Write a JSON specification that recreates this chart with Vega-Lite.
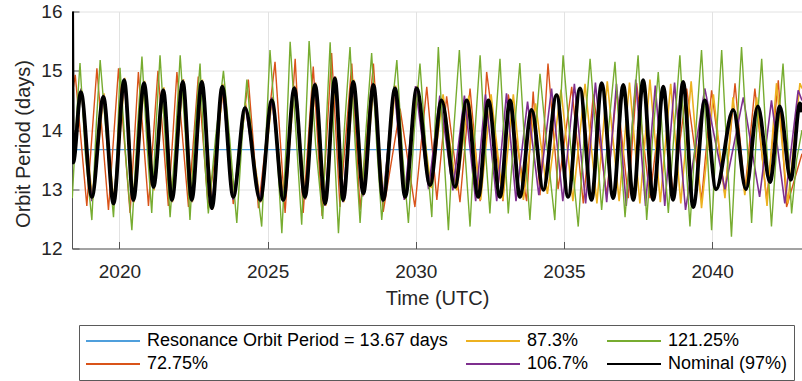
{
  "$schema": "https://vega.github.io/schema/vega-lite/v6.json",
  "width": 730,
  "height": 237,
  "autosize": {"type": "none"},
  "padding": {"left": 72, "top": 11.5, "right": 0, "bottom": 132.5},
  "background": "white",
  "config": {
    "view": {"stroke": null},
    "font": "Liberation Sans",
    "axis": {
      "labelFont": "Liberation Sans",
      "titleFont": "Liberation Sans",
      "labelFontSize": 19,
      "titleFontSize": 20,
      "labelColor": "#262626",
      "titleColor": "#262626",
      "titleFontWeight": "normal",
      "domainColor": "#555555",
      "tickColor": "#555555",
      "gridColor": "#e2e2e2",
      "gridWidth": 1,
      "tickSize": -7
    }
  },
  "data": {
    "values": [
      {"s":"R","t":2018.4,"v":13.67},{"s":"R","t":2043.03,"v":13.67},
      {"s":"O","t":2018.41,"v":14.6},{"s":"O","t":2018.51,"v":14.93},{"s":"O","t":2018.9,"v":12.72},{"s":"O","t":2019.24,"v":15.04},{"s":"O","t":2019.63,"v":12.65},{"s":"O","t":2019.97,"v":15.04},{"s":"O","t":2020.36,"v":12.6},{"s":"O","t":2020.64,"v":14.98},{"s":"O","t":2020.98,"v":12.72},{"s":"O","t":2021.3,"v":15.0},{"s":"O","t":2021.65,"v":12.72},{"s":"O","t":2021.94,"v":14.98},{"s":"O","t":2022.33,"v":12.7},{"s":"O","t":2022.66,"v":14.9},{"s":"O","t":2023.0,"v":12.67},{"s":"O","t":2023.51,"v":14.7},{"s":"O","t":2023.84,"v":12.75},{"s":"O","t":2024.35,"v":14.85},{"s":"O","t":2024.69,"v":12.68},{"s":"O","t":2025.25,"v":15.15},{"s":"O","t":2025.59,"v":12.6},{"s":"O","t":2025.93,"v":15.2},{"s":"O","t":2026.2,"v":12.6},{"s":"O","t":2026.54,"v":15.07},{"s":"O","t":2026.84,"v":12.55},{"s":"O","t":2027.16,"v":15.3},{"s":"O","t":2027.44,"v":12.7},{"s":"O","t":2027.84,"v":15.12},{"s":"O","t":2028.12,"v":12.65},{"s":"O","t":2028.57,"v":15.12},{"s":"O","t":2028.9,"v":12.62},{"s":"O","t":2029.47,"v":14.36},{"s":"O","t":2029.97,"v":12.7},{"s":"O","t":2030.37,"v":14.73},{"s":"O","t":2030.71,"v":12.82},{"s":"O","t":2031.04,"v":14.57},{"s":"O","t":2031.49,"v":12.78},{"s":"O","t":2031.83,"v":14.7},{"s":"O","t":2032.17,"v":12.8},{"s":"O","t":2032.39,"v":14.98},{"s":"O","t":2032.94,"v":12.8},{"s":"O","t":2033.12,"v":14.6},{"s":"O","t":2033.74,"v":12.8},{"s":"O","t":2033.96,"v":14.65},{"s":"O","t":2034.19,"v":12.9},{"s":"O","t":2034.46,"v":15.12},{"s":"O","t":2034.8,"v":13.0},{"s":"O","t":2035.26,"v":14.73},{"s":"O","t":2035.65,"v":12.76},{"s":"O","t":2035.99,"v":14.6},{"s":"O","t":2036.44,"v":12.9},{"s":"O","t":2036.78,"v":14.67},{"s":"O","t":2037.17,"v":12.85},{"s":"O","t":2037.45,"v":14.79},{"s":"O","t":2037.9,"v":12.85},{"s":"O","t":2038.35,"v":14.76},{"s":"O","t":2038.68,"v":12.9},{"s":"O","t":2039.14,"v":14.7},{"s":"O","t":2039.64,"v":12.82},{"s":"O","t":2039.98,"v":14.67},{"s":"O","t":2040.43,"v":12.9},{"s":"O","t":2040.77,"v":14.79},{"s":"O","t":2041.1,"v":12.95},{"s":"O","t":2041.44,"v":14.7},{"s":"O","t":2041.84,"v":12.82},{"s":"O","t":2042.23,"v":14.84},{"s":"O","t":2042.51,"v":12.7},{"s":"O","t":2043.03,"v":13.6},
      {"s":"Y","t":2018.41,"v":13.6},{"s":"Y","t":2018.72,"v":14.68},{"s":"Y","t":2019.09,"v":12.82},{"s":"Y","t":2019.48,"v":14.62},{"s":"Y","t":2019.82,"v":12.72},{"s":"Y","t":2020.18,"v":14.88},{"s":"Y","t":2020.49,"v":12.78},{"s":"Y","t":2020.85,"v":14.83},{"s":"Y","t":2021.17,"v":12.98},{"s":"Y","t":2021.5,"v":14.72},{"s":"Y","t":2021.79,"v":12.78},{"s":"Y","t":2022.16,"v":14.86},{"s":"Y","t":2022.46,"v":12.78},{"s":"Y","t":2022.8,"v":14.85},{"s":"Y","t":2023.14,"v":12.66},{"s":"Y","t":2023.49,"v":14.78},{"s":"Y","t":2023.86,"v":12.83},{"s":"Y","t":2024.26,"v":14.45},{"s":"Y","t":2024.77,"v":12.78},{"s":"Y","t":2025.16,"v":14.56},{"s":"Y","t":2025.55,"v":12.78},{"s":"Y","t":2025.92,"v":14.75},{"s":"Y","t":2026.28,"v":12.83},{"s":"Y","t":2026.62,"v":14.8},{"s":"Y","t":2026.96,"v":12.72},{"s":"Y","t":2027.29,"v":14.9},{"s":"Y","t":2027.57,"v":12.78},{"s":"Y","t":2027.91,"v":14.85},{"s":"Y","t":2028.25,"v":12.9},{"s":"Y","t":2028.59,"v":14.8},{"s":"Y","t":2028.92,"v":12.78},{"s":"Y","t":2029.32,"v":14.75},{"s":"Y","t":2029.66,"v":12.83},{"s":"Y","t":2030.06,"v":14.75},{"s":"Y","t":2030.52,"v":13.02},{"s":"Y","t":2030.92,"v":14.6},{"s":"Y","t":2031.38,"v":12.98},{"s":"Y","t":2031.79,"v":14.58},{"s":"Y","t":2032.19,"v":12.82},{"s":"Y","t":2032.54,"v":14.6},{"s":"Y","t":2032.94,"v":12.82},{"s":"Y","t":2033.29,"v":14.6},{"s":"Y","t":2033.63,"v":12.82},{"s":"Y","t":2034.04,"v":14.45},{"s":"Y","t":2034.44,"v":12.92},{"s":"Y","t":2034.9,"v":14.68},{"s":"Y","t":2035.3,"v":12.8},{"s":"Y","t":2035.71,"v":14.78},{"s":"Y","t":2036.11,"v":12.76},{"s":"Y","t":2036.46,"v":14.82},{"s":"Y","t":2036.86,"v":12.8},{"s":"Y","t":2037.21,"v":14.8},{"s":"Y","t":2037.56,"v":12.76},{"s":"Y","t":2037.9,"v":14.85},{"s":"Y","t":2038.25,"v":12.78},{"s":"Y","t":2038.6,"v":14.78},{"s":"Y","t":2038.94,"v":12.76},{"s":"Y","t":2039.29,"v":14.82},{"s":"Y","t":2039.64,"v":12.68},{"s":"Y","t":2040.04,"v":14.6},{"s":"Y","t":2040.43,"v":12.85},{"s":"Y","t":2040.7,"v":14.55},{"s":"Y","t":2041.1,"v":12.9},{"s":"Y","t":2041.5,"v":14.55},{"s":"Y","t":2041.85,"v":12.72},{"s":"Y","t":2042.17,"v":14.79},{"s":"Y","t":2042.55,"v":12.76},{"s":"Y","t":2042.96,"v":14.79},{"s":"Y","t":2043.03,"v":14.7},
      {"s":"P","t":2018.41,"v":13.5},{"s":"P","t":2018.7,"v":14.7},{"s":"P","t":2019.07,"v":12.8},{"s":"P","t":2019.46,"v":14.6},{"s":"P","t":2019.8,"v":12.72},{"s":"P","t":2020.16,"v":14.87},{"s":"P","t":2020.47,"v":12.78},{"s":"P","t":2020.83,"v":14.82},{"s":"P","t":2021.15,"v":13.0},{"s":"P","t":2021.48,"v":14.7},{"s":"P","t":2021.77,"v":12.78},{"s":"P","t":2022.14,"v":14.85},{"s":"P","t":2022.44,"v":12.78},{"s":"P","t":2022.78,"v":14.84},{"s":"P","t":2023.12,"v":12.65},{"s":"P","t":2023.47,"v":14.76},{"s":"P","t":2023.84,"v":12.82},{"s":"P","t":2024.24,"v":14.42},{"s":"P","t":2024.75,"v":12.78},{"s":"P","t":2025.14,"v":14.55},{"s":"P","t":2025.53,"v":12.78},{"s":"P","t":2025.9,"v":14.74},{"s":"P","t":2026.26,"v":12.83},{"s":"P","t":2026.59,"v":14.8},{"s":"P","t":2026.93,"v":12.72},{"s":"P","t":2027.26,"v":14.9},{"s":"P","t":2027.54,"v":12.78},{"s":"P","t":2027.87,"v":14.84},{"s":"P","t":2028.21,"v":12.88},{"s":"P","t":2028.55,"v":14.8},{"s":"P","t":2028.88,"v":12.78},{"s":"P","t":2029.27,"v":14.74},{"s":"P","t":2029.61,"v":12.82},{"s":"P","t":2029.99,"v":14.74},{"s":"P","t":2030.43,"v":13.0},{"s":"P","t":2030.81,"v":14.58},{"s":"P","t":2031.25,"v":12.98},{"s":"P","t":2031.64,"v":14.58},{"s":"P","t":2032.02,"v":12.8},{"s":"P","t":2032.35,"v":14.6},{"s":"P","t":2032.73,"v":12.8},{"s":"P","t":2033.06,"v":14.62},{"s":"P","t":2033.38,"v":12.8},{"s":"P","t":2033.77,"v":14.48},{"s":"P","t":2034.15,"v":12.9},{"s":"P","t":2034.58,"v":14.7},{"s":"P","t":2034.96,"v":12.8},{"s":"P","t":2035.35,"v":14.78},{"s":"P","t":2035.73,"v":12.76},{"s":"P","t":2036.06,"v":14.8},{"s":"P","t":2036.44,"v":12.78},{"s":"P","t":2036.77,"v":14.78},{"s":"P","t":2037.1,"v":12.72},{"s":"P","t":2037.42,"v":14.85},{"s":"P","t":2037.75,"v":12.72},{"s":"P","t":2038.08,"v":14.75},{"s":"P","t":2038.4,"v":12.72},{"s":"P","t":2038.73,"v":14.8},{"s":"P","t":2039.1,"v":12.65},{"s":"P","t":2039.75,"v":14.7},{"s":"P","t":2040.43,"v":13.0},{"s":"P","t":2041.05,"v":14.55},{"s":"P","t":2041.6,"v":12.87},{"s":"P","t":2042.0,"v":14.5},{"s":"P","t":2042.45,"v":12.76},{"s":"P","t":2042.9,"v":14.67},{"s":"P","t":2043.03,"v":14.5},
      {"s":"G","t":2018.41,"v":12.85},{"s":"G","t":2018.55,"v":14.2},{"s":"G","t":2018.67,"v":15.13},{"s":"G","t":2018.85,"v":13.6},{"s":"G","t":2019.07,"v":12.48},{"s":"G","t":2019.22,"v":14.1},{"s":"G","t":2019.35,"v":15.18},{"s":"G","t":2019.55,"v":13.95},{"s":"G","t":2019.8,"v":12.53},{"s":"G","t":2019.92,"v":13.6},{"s":"G","t":2020.02,"v":15.05},{"s":"G","t":2020.22,"v":13.5},{"s":"G","t":2020.42,"v":12.31},{"s":"G","t":2020.6,"v":13.95},{"s":"G","t":2020.76,"v":15.24},{"s":"G","t":2020.93,"v":13.75},{"s":"G","t":2021.09,"v":12.6},{"s":"G","t":2021.24,"v":14.1},{"s":"G","t":2021.37,"v":15.26},{"s":"G","t":2021.55,"v":13.8},{"s":"G","t":2021.71,"v":12.53},{"s":"G","t":2021.88,"v":13.75},{"s":"G","t":2022.05,"v":15.26},{"s":"G","t":2022.22,"v":13.95},{"s":"G","t":2022.38,"v":12.48},{"s":"G","t":2022.55,"v":14.0},{"s":"G","t":2022.72,"v":15.12},{"s":"G","t":2022.85,"v":13.7},{"s":"G","t":2023.0,"v":12.59},{"s":"G","t":2023.25,"v":13.9},{"s":"G","t":2023.51,"v":15.0},{"s":"G","t":2023.72,"v":13.85},{"s":"G","t":2023.96,"v":12.43},{"s":"G","t":2024.13,"v":13.8},{"s":"G","t":2024.3,"v":14.85},{"s":"G","t":2024.55,"v":13.4},{"s":"G","t":2024.8,"v":12.37},{"s":"G","t":2024.95,"v":13.95},{"s":"G","t":2025.08,"v":15.35},{"s":"G","t":2025.28,"v":13.95},{"s":"G","t":2025.48,"v":12.26},{"s":"G","t":2025.62,"v":13.7},{"s":"G","t":2025.76,"v":15.49},{"s":"G","t":2025.95,"v":14.0},{"s":"G","t":2026.15,"v":12.4},{"s":"G","t":2026.28,"v":14.05},{"s":"G","t":2026.4,"v":15.5},{"s":"G","t":2026.62,"v":13.75},{"s":"G","t":2026.86,"v":12.5},{"s":"G","t":2026.98,"v":14.1},{"s":"G","t":2027.11,"v":15.48},{"s":"G","t":2027.25,"v":13.7},{"s":"G","t":2027.39,"v":12.26},{"s":"G","t":2027.58,"v":13.95},{"s":"G","t":2027.78,"v":15.4},{"s":"G","t":2027.95,"v":13.8},{"s":"G","t":2028.12,"v":12.43},{"s":"G","t":2028.32,"v":14.0},{"s":"G","t":2028.51,"v":15.3},{"s":"G","t":2028.68,"v":13.75},{"s":"G","t":2028.85,"v":12.48},{"s":"G","t":2029.1,"v":13.9},{"s":"G","t":2029.36,"v":15.18},{"s":"G","t":2029.55,"v":13.6},{"s":"G","t":2029.75,"v":12.43},{"s":"G","t":2029.95,"v":14.0},{"s":"G","t":2030.14,"v":15.12},{"s":"G","t":2030.34,"v":13.7},{"s":"G","t":2030.54,"v":12.53},{"s":"G","t":2030.65,"v":14.1},{"s":"G","t":2030.76,"v":15.4},{"s":"G","t":2030.93,"v":13.75},{"s":"G","t":2031.1,"v":12.31},{"s":"G","t":2031.28,"v":14.0},{"s":"G","t":2031.47,"v":15.35},{"s":"G","t":2031.65,"v":13.7},{"s":"G","t":2031.83,"v":12.37},{"s":"G","t":2032.0,"v":14.0},{"s":"G","t":2032.17,"v":15.26},{"s":"G","t":2032.33,"v":13.8},{"s":"G","t":2032.5,"v":12.59},{"s":"G","t":2032.67,"v":14.0},{"s":"G","t":2032.84,"v":15.2},{"s":"G","t":2032.98,"v":13.85},{"s":"G","t":2033.12,"v":12.59},{"s":"G","t":2033.32,"v":13.95},{"s":"G","t":2033.51,"v":15.13},{"s":"G","t":2033.68,"v":13.7},{"s":"G","t":2033.85,"v":12.48},{"s":"G","t":2034.02,"v":13.85},{"s":"G","t":2034.19,"v":14.95},{"s":"G","t":2034.44,"v":13.65},{"s":"G","t":2034.69,"v":12.48},{"s":"G","t":2034.83,"v":13.9},{"s":"G","t":2034.97,"v":15.26},{"s":"G","t":2035.22,"v":13.75},{"s":"G","t":2035.48,"v":12.37},{"s":"G","t":2035.68,"v":13.9},{"s":"G","t":2035.88,"v":15.2},{"s":"G","t":2036.08,"v":13.9},{"s":"G","t":2036.27,"v":12.65},{"s":"G","t":2036.5,"v":14.0},{"s":"G","t":2036.72,"v":15.15},{"s":"G","t":2036.89,"v":13.75},{"s":"G","t":2037.06,"v":12.53},{"s":"G","t":2037.28,"v":13.95},{"s":"G","t":2037.5,"v":15.26},{"s":"G","t":2037.65,"v":13.85},{"s":"G","t":2037.79,"v":12.48},{"s":"G","t":2037.98,"v":13.8},{"s":"G","t":2038.18,"v":14.98},{"s":"G","t":2038.35,"v":13.7},{"s":"G","t":2038.52,"v":12.6},{"s":"G","t":2038.72,"v":14.0},{"s":"G","t":2038.91,"v":15.26},{"s":"G","t":2039.08,"v":13.75},{"s":"G","t":2039.25,"v":12.37},{"s":"G","t":2039.45,"v":14.0},{"s":"G","t":2039.64,"v":15.35},{"s":"G","t":2039.81,"v":13.85},{"s":"G","t":2039.98,"v":12.31},{"s":"G","t":2040.15,"v":13.95},{"s":"G","t":2040.32,"v":15.35},{"s":"G","t":2040.49,"v":13.7},{"s":"G","t":2040.65,"v":12.2},{"s":"G","t":2040.82,"v":13.9},{"s":"G","t":2040.99,"v":15.4},{"s":"G","t":2041.16,"v":13.95},{"s":"G","t":2041.33,"v":12.43},{"s":"G","t":2041.5,"v":14.0},{"s":"G","t":2041.67,"v":15.2},{"s":"G","t":2041.84,"v":13.7},{"s":"G","t":2042.0,"v":12.37},{"s":"G","t":2042.2,"v":13.9},{"s":"G","t":2042.39,"v":15.12},{"s":"G","t":2042.54,"v":13.85},{"s":"G","t":2042.68,"v":12.59},{"s":"G","t":2042.85,"v":13.5},{"s":"G","t":2043.03,"v":14.0},
      {"s":"N","t":2018.405,"v":16.05},{"s":"N","t":2018.44,"v":13.45},{"s":"N","t":2018.7,"v":14.64},{"s":"N","t":2019.07,"v":12.87},{"s":"N","t":2019.46,"v":14.56},{"s":"N","t":2019.8,"v":12.76},{"s":"N","t":2020.16,"v":14.84},{"s":"N","t":2020.47,"v":12.82},{"s":"N","t":2020.83,"v":14.79},{"s":"N","t":2021.15,"v":13.04},{"s":"N","t":2021.48,"v":14.67},{"s":"N","t":2021.77,"v":12.82},{"s":"N","t":2022.14,"v":14.81},{"s":"N","t":2022.44,"v":12.82},{"s":"N","t":2022.78,"v":14.81},{"s":"N","t":2023.12,"v":12.68},{"s":"N","t":2023.47,"v":14.73},{"s":"N","t":2023.84,"v":12.87},{"s":"N","t":2024.24,"v":14.37},{"s":"N","t":2024.75,"v":12.82},{"s":"N","t":2025.14,"v":14.5},{"s":"N","t":2025.53,"v":12.82},{"s":"N","t":2025.9,"v":14.7},{"s":"N","t":2026.26,"v":12.87},{"s":"N","t":2026.6,"v":14.76},{"s":"N","t":2026.94,"v":12.76},{"s":"N","t":2027.27,"v":14.87},{"s":"N","t":2027.55,"v":12.82},{"s":"N","t":2027.89,"v":14.81},{"s":"N","t":2028.23,"v":12.93},{"s":"N","t":2028.57,"v":14.76},{"s":"N","t":2028.9,"v":12.82},{"s":"N","t":2029.3,"v":14.7},{"s":"N","t":2029.64,"v":12.87},{"s":"N","t":2030.03,"v":14.7},{"s":"N","t":2030.48,"v":13.07},{"s":"N","t":2030.87,"v":14.5},{"s":"N","t":2031.32,"v":13.04},{"s":"N","t":2031.72,"v":14.5},{"s":"N","t":2032.11,"v":12.87},{"s":"N","t":2032.45,"v":14.5},{"s":"N","t":2032.84,"v":12.87},{"s":"N","t":2033.18,"v":14.5},{"s":"N","t":2033.51,"v":12.87},{"s":"N","t":2033.91,"v":14.34},{"s":"N","t":2034.3,"v":12.99},{"s":"N","t":2034.75,"v":14.59},{"s":"N","t":2035.14,"v":12.87},{"s":"N","t":2035.54,"v":14.7},{"s":"N","t":2035.93,"v":12.82},{"s":"N","t":2036.27,"v":14.79},{"s":"N","t":2036.66,"v":12.85},{"s":"N","t":2037.0,"v":14.76},{"s":"N","t":2037.34,"v":12.82},{"s":"N","t":2037.67,"v":14.84},{"s":"N","t":2038.01,"v":12.82},{"s":"N","t":2038.35,"v":14.73},{"s":"N","t":2038.68,"v":12.82},{"s":"N","t":2039.02,"v":14.81},{"s":"N","t":2039.36,"v":12.7},{"s":"N","t":2039.75,"v":14.5},{"s":"N","t":2040.13,"v":13.0},{"s":"N","t":2040.71,"v":14.34},{"s":"N","t":2041.14,"v":13.0},{"s":"N","t":2041.54,"v":14.4},{"s":"N","t":2041.95,"v":13.12},{"s":"N","t":2042.28,"v":14.4},{"s":"N","t":2042.65,"v":13.16},{"s":"N","t":2042.96,"v":14.45},{"s":"N","t":2043.03,"v":14.3}
    ]
  },
  "encoding": {
    "x": {
      "field": "t", "type": "quantitative",
      "scale": {"domain": [2018.4, 2043.03], "nice": false, "zero": false},
      "axis": {"values": [2020, 2025, 2030, 2035, 2040], "format": "d", "title": "Time (UTC)", "labelPadding": 21, "titleX": 365, "titleY": 49.5, "titleBaseline": "middle", "titleAnchor": null}
    },
    "y": {
      "field": "v", "type": "quantitative",
      "scale": {"domain": [12, 16], "nice": false, "zero": false},
      "axis": {"values": [12, 13, 14, 15, 16], "format": "d", "title": "Orbit Period (days)", "labelPadding": 17, "titleAngle": -90, "titleBaseline": "middle", "titleAlign": "center", "titleX": -49, "titleY": 132}
    },
    "color": {
      "field": "s", "type": "nominal",
      "scale": {"domain": ["R", "O", "Y", "P", "G", "N"], "range": ["#4f9fdc", "#D95319", "#EDB120", "#7E2F8E", "#77AC30", "#000000"]},
      "legend": {
        "title": null,
        "orient": "none",
        "legendX": 7,
        "legendY": 313.5,
        "columns": 3,
        "columnPadding": 17,
        "rowPadding": 3,
        "clipHeight": 20,
        "symbolType": "stroke",
        "symbolSize": 2916,
        "symbolStrokeWidth": 2,
        "labelFont": "Liberation Sans",
        "labelFontSize": 18,
        "labelColor": "#000000",
        "labelOffset": 6,
        "labelLimit": 420,
        "padding": 6,
        "strokeColor": "#5a5a5a",
        "fillColor": "#ffffff",
        "labelExpr": "datum.label==='R'?'Resonance Orbit Period = 13.67 days':datum.label==='O'?'72.75%':datum.label==='Y'?'87.3%':datum.label==='P'?'106.7%':datum.label==='G'?'121.25%':'Nominal (97%)'"
      }
    }
  },
  "layer": [
    {"transform": [{"filter": "datum.s==='R'"}], "mark": {"type": "line", "clip": true, "strokeWidth": 1.2}},
    {"transform": [{"filter": "datum.s==='O'"}], "mark": {"type": "line", "clip": true, "strokeWidth": 1.4}},
    {"transform": [{"filter": "datum.s==='Y'"}], "mark": {"type": "line", "clip": true, "strokeWidth": 1.6}},
    {"transform": [{"filter": "datum.s==='P'"}], "mark": {"type": "line", "clip": true, "strokeWidth": 1.6}},
    {"transform": [{"filter": "datum.s==='G'"}], "mark": {"type": "line", "clip": true, "strokeWidth": 1.4}},
    {"transform": [{"filter": "datum.s==='N'"}], "mark": {"type": "line", "clip": true, "strokeWidth": 3.8, "interpolate": "monotone"}}
  ]
}
